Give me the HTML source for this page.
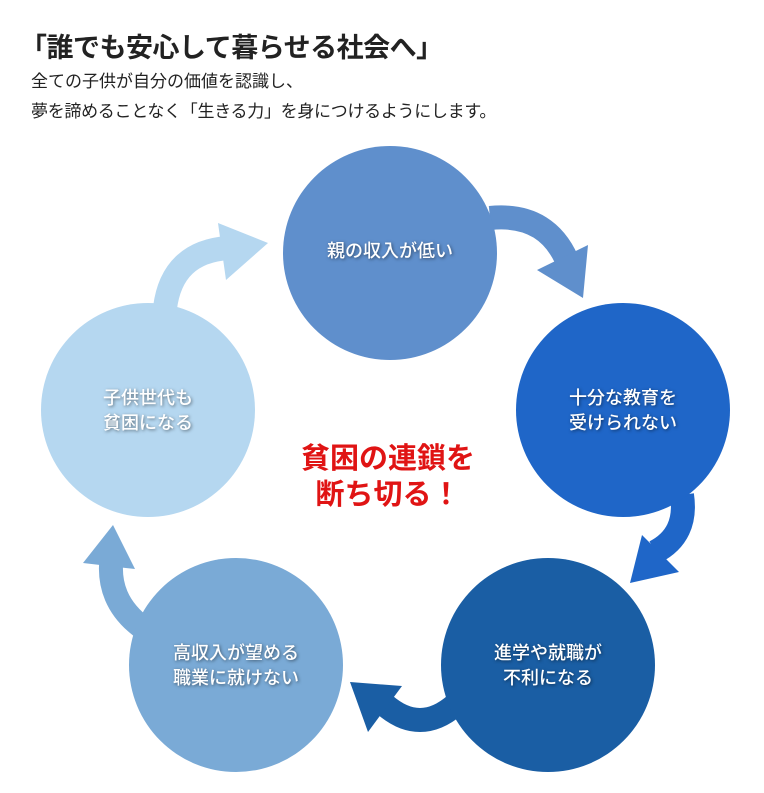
<!DOCTYPE html>
<html><head><meta charset="utf-8"><style>
html,body{margin:0;padding:0;background:#fff;}
body{width:764px;height:793px;position:relative;overflow:hidden;font-family:"Liberation Sans","Noto Sans CJK JP",sans-serif;}
.t{position:absolute;white-space:nowrap;}
.c{position:absolute;color:#fff;font-size:18px;text-align:center;line-height:25px;text-shadow:1px 1px 3px rgba(0,0,0,0.5);font-weight:500;}
</style></head><body>
<div class="t" style="left:20px;top:26px;font-size:27px;font-weight:bold;color:#222;letter-spacing:-0.5px;">「誰でも安心して暮らせる社会へ」</div>
<div class="t" style="left:31px;top:67px;font-size:17px;color:#222;">全ての子供が自分の価値を認識し、</div>
<div class="t" style="left:31px;top:97px;font-size:17px;color:#222;letter-spacing:-0.3px;">夢を諦めることなく「生きる力」を身につけるようにします。</div>
<svg width="764" height="793" style="position:absolute;left:0;top:0">
<g fill="none" stroke-width="24">
<path d="M165 308 Q172 252 228 248" stroke="#b5d7f0"/>
<path d="M490 218 Q550 212 570 268" stroke="#5f8fcc"/>
<path d="M682 495 Q688 535 655 552" stroke="#1f66c8"/>
<path d="M455 705 Q420 735 385 705" stroke="#1a5ea4"/>
<path d="M143 628 Q105 600 112 555" stroke="#7aaad6"/>
</g>
<polygon points="218,223 268,243 226,280" fill="#b5d7f0"/>
<polygon points="588,245 583,298 537,270" fill="#5f8fcc"/>
<polygon points="642,535 679,572 630,583" fill="#1f66c8"/>
<polygon points="350,682 402,686 368,732" fill="#1a5ea4"/>
<polygon points="113,525 83,563 135,569" fill="#7aaad6"/>
<ellipse cx="390" cy="253" rx="107" ry="107" fill="#5f8fcc"/>
<ellipse cx="623" cy="410" rx="107" ry="107" fill="#1f66c8"/>
<ellipse cx="548" cy="665" rx="107" ry="107" fill="#1a5ea4"/>
<ellipse cx="236" cy="665" rx="107" ry="107" fill="#7aaad6"/>
<ellipse cx="148" cy="410" rx="107" ry="107" fill="#b5d7f0"/>
</svg>
<div class="c" style="left:290px;width:200px;top:239px;">親の収入が低い</div>
<div class="c" style="left:523px;width:200px;top:386px;">十分な教育を<br>受けられない</div>
<div class="c" style="left:448px;width:200px;top:641px;">進学や就職が<br>不利になる</div>
<div class="c" style="left:136px;width:200px;top:641px;">高収入が望める<br>職業に就けない</div>
<div class="c" style="left:48px;width:200px;top:386px;">子供世代も<br>貧困になる</div>
<div class="t" style="left:288px;width:200px;text-align:center;top:441px;font-size:29px;line-height:36px;font-weight:bold;color:#e01414;">貧困の連鎖を<br>断ち切る！</div>
</body></html>
